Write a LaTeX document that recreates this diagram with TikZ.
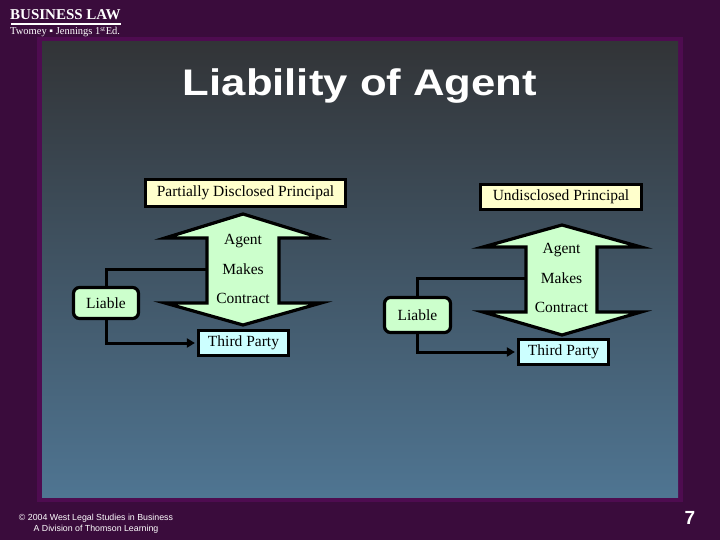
\documentclass[tikz,border=0pt]{standalone}
\usepackage{fontspec}
\setmainfont{Liberation Serif}
\setsansfont{Liberation Sans}
\usetikzlibrary{arrows.meta}
\definecolor{slidebg}{HTML}{3A0C3C}
\definecolor{slideedge}{HTML}{4E0C50}
\definecolor{panetop}{HTML}{323437}
\definecolor{panebot}{HTML}{4F7592}
\definecolor{principal}{HTML}{FFFFCC}
\definecolor{mint}{HTML}{CCFFCC}
\definecolor{aqua}{HTML}{CCFFFF}
\tikzset{
  boxtext/.style={font=\fontsize{15.5}{17}\selectfont, inner sep=0pt},
  principalbox/.style={boxtext, draw=black, line width=3.2pt, fill=principal},
  partybox/.style={boxtext, draw=black, line width=3.2pt, fill=aqua, minimum width=90, minimum height=25},
  liablebox/.style={boxtext, draw=black, line width=3.2pt, fill=mint, rounded corners=6pt},
  arrowtext/.style={boxtext, minimum width=72},
  bigarrow/.style={draw=black, line width=3.2pt, fill=mint, line join=miter},
  link/.style={draw=black, line width=3pt},
}

\begin{document}
\begin{tikzpicture}[x=1pt, y=-1pt]
\useasboundingbox (0,0) rectangle (720,540);
% Slide frame
\fill[slidebg] (0,0) rectangle (720,540);
\fill[slideedge] (37,37) rectangle (683,502);
\shade[top color=panetop, bottom color=panebot] (42,42) rectangle (678,497);

% Header and footer
\node[font=\bfseries\fontsize{15}{17}\selectfont, white, anchor=base west, inner sep=0] (book) at (10,20) {BUSINESS LAW};
\draw[white, line width=2pt] (11,24.5) -- (121,24.5);
\node[font=\fontsize{10.5}{12}\selectfont, white, anchor=base west, inner sep=0] (authors) at (10,35) {Twomey ▪ Jennings 1\textsuperscript{st}Ed.};
\node[font=\sffamily\fontsize{8.8}{11}\selectfont, white, align=center, inner sep=0] (credit) at (96,523.5) {© 2004 West Legal Studies in Business\\A Division of Thomson Learning};
\node[font=\sffamily\bfseries\fontsize{19}{20}\selectfont, white, inner sep=0] (page) at (690,518) {7};

% Title
\node[font=\sffamily\bfseries\fontsize{37}{40}\selectfont, white, anchor=base] (title) at (360,96) {\scalebox{1.18}[1]{Liability of Agent}};

% Left: partially disclosed principal
\node[principalbox, minimum width=200, minimum height=27] (pdp) at (245.5,193) {Partially Disclosed Principal};
\draw[bigarrow] (243,214) -- (321,238) -- (279,238) -- (279,303) -- (321,303) -- (243,325)
  -- (165,303) -- (207,303) -- (207,238) -- (165,238) -- cycle;
\node[arrowtext] (agentL) at (243,241) {Agent};
\node[arrowtext] (makesL) at (243,269.5) {Makes};
\node[arrowtext] (contractL) at (243,298) {Contract};
\node[liablebox, minimum width=65, minimum height=31] (liableL) at (106,303) {Liable};
\node[partybox] (partyL) at (243.5,343) {Third Party};
\draw[link] (liableL.north) |- (makesL.west);
\draw[link, -{Triangle[length=8pt, width=9pt]}] (liableL.south) |- ([xshift=-2pt]partyL.west);

% Right: undisclosed principal
\node[principalbox, minimum width=161, minimum height=25] (udp) at (561,197) {Undisclosed Principal};
\draw[bigarrow] (562,225) -- (641,247) -- (597,247) -- (597,312) -- (641,312) -- (562,335)
  -- (483,312) -- (526,312) -- (526,247) -- (483,247) -- cycle;
\node[arrowtext, minimum width=71] (agentR) at (561.5,250) {Agent};
\node[arrowtext, minimum width=71] (makesR) at (561.5,278.5) {Makes};
\node[arrowtext, minimum width=71] (contractR) at (561.5,307) {Contract};
\node[liablebox, minimum width=66, minimum height=35] (liableR) at (417.5,315) {Liable};
\node[partybox] (partyR) at (563.5,352) {Third Party};
\draw[link] (liableR.north) |- (makesR.west);
\draw[link, -{Triangle[length=8pt, width=9pt]}] (liableR.south) |- ([xshift=-2pt]partyR.west);
\end{tikzpicture}
\end{document}
